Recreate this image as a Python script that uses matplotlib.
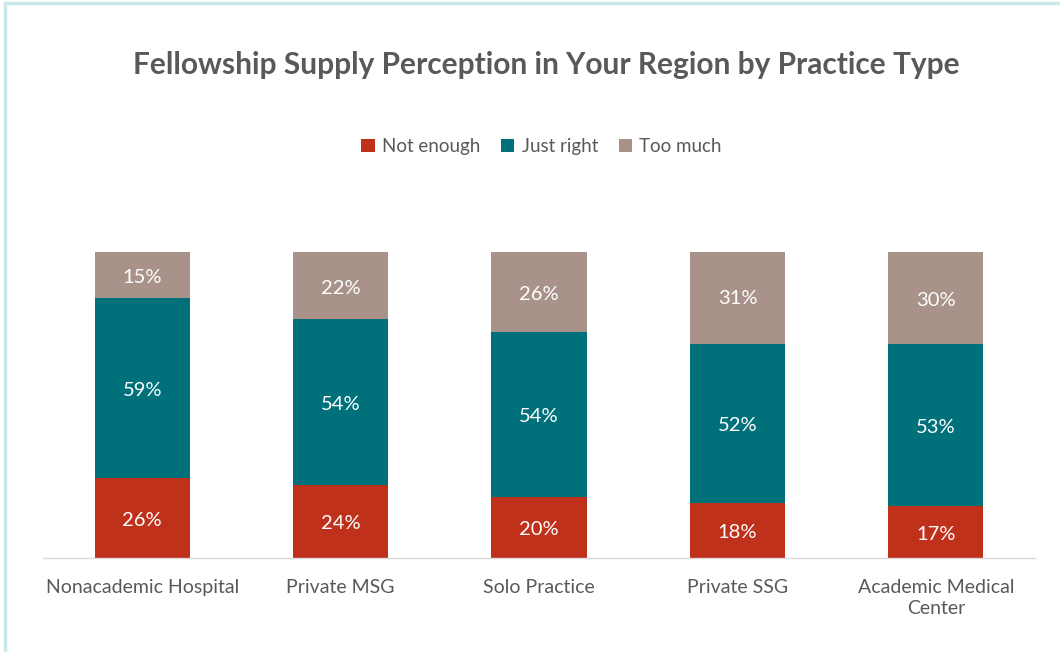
import numpy as np
import matplotlib.pyplot as plt
from matplotlib.lines import Line2D

categories = ['Nonacademic Hospital', 'Private MSG', 'Solo Practice', 'Private SSG', 'Academic Medical\nCenter']
not_enough = [26, 24, 20, 18, 17]
just_right = [59, 54, 54, 52, 53]
too_much = [15, 22, 26, 31, 30]
series_names = ['Not enough', 'Just right', 'Too much']
colors = ['#BF311B', '#00707B', '#A8928A']

plt.rcParams['font.family'] = ['Lato', 'DejaVu Sans']

fig = plt.figure(figsize=(10.6, 6.52), dpi=100)
ax = fig.add_axes([43 / 1060, 94 / 652, 992 / 1060, 306 / 652])

x = np.arange(len(categories))
bottom = np.zeros(len(categories))
for vals, name, col in zip([not_enough, just_right, too_much], series_names, colors):
    vals = np.array(vals, dtype=float)
    ax.bar(x, vals, width=0.48, bottom=bottom, color=col, label=name)
    for xi, b, v in zip(x, bottom, vals):
        ax.text(xi, b + v / 2 - 0.8, f'{v:.0f}%', ha='center', va='center',
                color='white', fontsize=14.5)
    bottom += vals

ax.set_xlim(-0.5, len(categories) - 0.5)
ax.set_ylim(0, 100)
ax.set_yticks([])
for s in ['top', 'right', 'left']:
    ax.spines[s].set_visible(False)
ax.spines['bottom'].set_color('#D9D9D9')
ax.spines['bottom'].set_linewidth(1)
ax.set_xticks(x)
ax.set_xticklabels(categories, fontsize=14, color='#595959', linespacing=1.3)
ax.tick_params(axis='x', length=0, pad=15)

fig.text(0.515, 0.9, 'Fellowship Supply Perception in Your Region by Practice Type',
         ha='center', va='center', fontsize=21.5, fontweight='bold', color='#595959')

fig.legend(loc='center', bbox_to_anchor=(0.511, 0.775), ncol=3, frameon=False,
           fontsize=13.5, handlelength=0.7, handleheight=0.7, handletextpad=0.4,
           columnspacing=1.1, labelcolor='#595959')

# light border on top and left edges
fig.add_artist(Line2D([5 / 1060, 1], [1 - 3 / 652, 1 - 3 / 652], transform=fig.transFigure,
                      color='#CDE8EC', linewidth=2.5))
fig.add_artist(Line2D([5 / 1060, 5 / 1060], [0, 1 - 3 / 652], transform=fig.transFigure,
                      color='#CDE8EC', linewidth=2.5))

fig.savefig('out.png', dpi=100, facecolor='white')
